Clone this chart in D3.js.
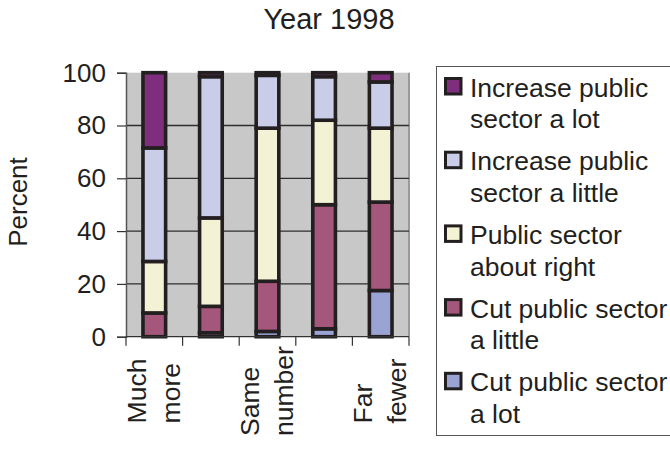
<!DOCTYPE html>
<html>
<head>
<meta charset="utf-8">
<script src="https://cdn.jsdelivr.net/npm/d3@7"></script>
<style>
  html, body { margin: 0; padding: 0; background: #fff; }
  svg { display: block; font-family: "Liberation Sans", Arial, Helvetica, sans-serif; }
</style>
</head>
<body>
<svg id="chart" width="670" height="449"></svg>
<script>
// Answer categories along the x axis (only some are labelled)
const categories = ["c1", "c2", "c3", "c4", "c5"];
const categoryLabels = [["Much", "more"], [], ["Same", "number"], [], ["Far", "fewer"]];

// Response series, stacked bottom to top
const seriesNames = [
  "Cut public sector a lot",
  "Cut public sector a little",
  "Public sector about right",
  "Increase public sector a little",
  "Increase public sector a lot"
];
const legendLines = [
  ["Cut public sector", "a lot"],
  ["Cut public sector", "a little"],
  ["Public sector", "about right"],
  ["Increase public", "sector a little"],
  ["Increase public", "sector a lot"]
];
const cutLot        = [0,    1.5,  2,  3,    17.5];
const cutLittle     = [9,    10,   19, 47,   33.5];
const aboutRight    = [19.5, 33.5, 58, 32,   28];
const increaseLittle= [43,   53.5, 20, 16.5, 17.5];
const increaseLot   = [28.5, 1.5,  1,  1.5,  3.5];

const yTicks = [0, 20, 40, 60, 80, 100];
const colors = ["#99a4d4", "#a5577b", "#f3f2d4", "#c9cde8", "#7f2e7d"];

const seriesValues = [cutLot, cutLittle, aboutRight, increaseLittle, increaseLot];
const rows = categories.map((c, i) => {
  const r = { cat: c };
  seriesNames.forEach((s, k) => { r[s] = seriesValues[k][i]; });
  return r;
});

const svg = d3.select("#chart");
const plot = { left: 126, right: 409, top: 72.7, bottom: 336.7 };

const x = d3.scaleBand().domain(categories)
  .range([plot.left, plot.right]).paddingInner(0.6).paddingOuter(0.3);
const y = d3.scaleLinear().domain([0, 100]).range([plot.bottom, plot.top]);
const color = d3.scaleOrdinal().domain(seriesNames).range(colors);

// Title
svg.append("text").attr("x", 329).attr("y", 28.5)
  .attr("text-anchor", "middle").attr("font-size", 29).attr("fill", "#231f20")
  .text("Year 1998");

// Plot background
svg.append("rect")
  .attr("x", plot.left).attr("y", plot.top)
  .attr("width", plot.right - plot.left).attr("height", plot.bottom - plot.top)
  .attr("fill", "#c8c8c8");
svg.append("line")
  .attr("x1", plot.right).attr("x2", plot.right)
  .attr("y1", plot.top).attr("y2", plot.bottom)
  .attr("stroke", "#9a9a9a").attr("stroke-width", 2);

// Horizontal gridlines
svg.append("g").selectAll("line").data(yTicks.filter(t => t > 0 && t < 100)).join("line")
  .attr("x1", plot.left).attr("x2", plot.right)
  .attr("y1", d => y(d)).attr("y2", d => y(d))
  .attr("stroke", "#2e2e2e").attr("stroke-width", 1.3);

// Y axis
const yAxis = svg.append("g").attr("transform", `translate(${plot.left},0)`)
  .call(d3.axisLeft(y).tickValues(yTicks).tickSize(9).tickPadding(11));
yAxis.select(".domain").attr("stroke", "#555").attr("stroke-width", 1.5);
yAxis.selectAll(".tick line").attr("stroke", "#333").attr("stroke-width", 1.2);
yAxis.selectAll(".tick text")
  .attr("font-size", 26).attr("fill", "#231f20")
  .attr("font-family", "Liberation Sans, Arial, sans-serif");

// Y axis title
svg.append("text")
  .attr("transform", "translate(26.5,202) rotate(-90)")
  .attr("text-anchor", "middle").attr("font-size", 26).attr("fill", "#231f20")
  .text("Percent");

// Stacked bars
const stacked = d3.stack().keys(seriesNames)(rows);
svg.append("g").selectAll("g").data(stacked).join("g")
  .attr("fill", d => color(d.key))
  .selectAll("rect").data(d => d).join("rect")
  .attr("x", d => x(d.data.cat))
  .attr("width", x.bandwidth())
  .attr("y", d => y(d[1]))
  .attr("height", d => y(d[0]) - y(d[1]))
  .attr("stroke", "#231f20").attr("stroke-width", 3.6)
  .attr("stroke-linejoin", "miter");

// X axis line and ticks at category boundaries
const gap = x.step() - x.bandwidth();
const boundaries = categories.map(c => x(c) - gap / 2).concat([x(categories[categories.length - 1]) + x.bandwidth() + gap / 2]);
svg.append("line")
  .attr("x1", plot.left).attr("x2", plot.right)
  .attr("y1", plot.bottom).attr("y2", plot.bottom)
  .attr("stroke", "#333").attr("stroke-width", 1.2);
svg.append("g").selectAll("line").data(boundaries).join("line")
  .attr("x1", d => d).attr("x2", d => d)
  .attr("y1", plot.bottom).attr("y2", plot.bottom + 9)
  .attr("stroke", "#333").attr("stroke-width", 1.2);

// Rotated two-line category labels, lines start-aligned, block centred
const labelMid = 391;
categories.forEach((c, i) => {
  const lines = categoryLabels[i];
  if (!lines.length) return;
  const cx = x(c) + x.bandwidth() / 2;
  const g = svg.append("g");
  const texts = lines.map((t, k) => g.append("text")
    .attr("font-size", 26.5).attr("fill", "#231f20")
    .text(t));
  const maxLen = d3.max(texts, t => t.node().getComputedTextLength());
  const startY = labelMid + maxLen / 2;
  texts.forEach((t, k) => {
    const bx = cx - 8.4 + k * 34;
    t.attr("transform", `translate(${bx},${startY}) rotate(-90)`)
      .attr("text-anchor", "start");
  });
});

// Legend
const legend = svg.append("g");
legend.append("rect")
  .attr("x", 436.5).attr("y", 66.5).attr("width", 260).attr("height", 369)
  .attr("fill", "#fff").attr("stroke", "#555").attr("stroke-width", 1);
const legendOrder = d3.range(seriesNames.length).reverse();
legendOrder.forEach((k, i) => {
  const top = 78.5 + i * 73.7;
  legend.append("rect")
    .attr("x", 445.5).attr("y", top).attr("width", 15.5).attr("height", 15.5)
    .attr("fill", colors[k]).attr("stroke", "#231f20").attr("stroke-width", 3);
  legendLines[k].forEach((t, j) => {
    legend.append("text")
      .attr("x", 470).attr("y", top + 18 + j * 31.6)
      .attr("font-size", 26.5).attr("fill", "#231f20")
      .text(t);
  });
});
</script>
</body>
</html>
